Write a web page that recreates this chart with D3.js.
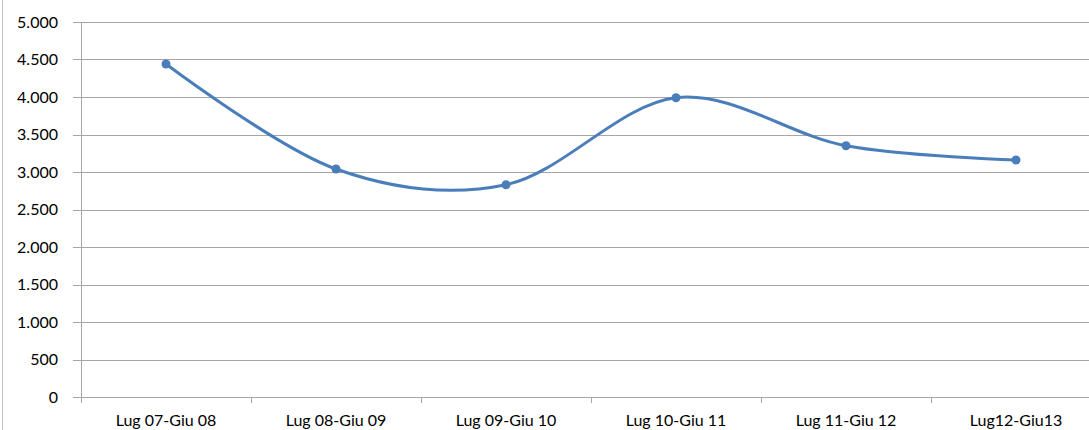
<!DOCTYPE html>
<html>
<head>
<meta charset="utf-8">
<script src="https://cdn.jsdelivr.net/npm/d3@7"></script>
<style>
  body { margin: 0; background: #fff; }
  text { font-family: Lato, "Open Sans", sans-serif; font-size: 16px; fill: #000; }
</style>
</head>
<body>
<script>
// categories and values
var categories = ["Lug 07-Giu 08", "Lug 08-Giu 09", "Lug 09-Giu 10", "Lug 10-Giu 11", "Lug 11-Giu 12", "Lug12-Giu13"];
var values = [4440, 3040, 2830, 3990, 3350, 3160];
var yTicks = [0, 500, 1000, 1500, 2000, 2500, 3000, 3500, 4000, 4500, 5000];

var settings = {
    width: 1089,
    height: 430,
    left: 81,
    top: 22,
    bottom: 397,
    band: 170,
    color: "#4A7EBB"
}

var svg = d3.select("body").append("svg")
    .attr("width", settings.width)
    .attr("height", settings.height);

// outer border on the left
svg.append("line")
    .attr("x1", 2.5).attr("x2", 2.5)
    .attr("y1", 0).attr("y2", settings.height)
    .attr("stroke", "#bfbfbf");

var x = d3.scaleBand()
    .domain(categories)
    .range([settings.left, settings.left + settings.band * categories.length]);

var y = d3.scaleLinear()
    .domain([0, 5000])
    .range([settings.bottom, settings.top]);

var fmt = function(d) { return d3.format(",")(d).replace(/,/g, "."); };

// gridlines
svg.append("g").selectAll("line")
    .data(yTicks)
    .enter().append("line")
    .attr("x1", settings.left - 8)
    .attr("x2", settings.width)
    .attr("y1", (d) => { return Math.round(y(d)) + 0.5; })
    .attr("y2", (d) => { return Math.round(y(d)) + 0.5; })
    .attr("stroke", "#a6a6a6");

// y labels
svg.append("g").selectAll("text")
    .data(yTicks)
    .enter().append("text")
    .attr("x", 58)
    .attr("y", (d) => { return y(d) + 5.5; })
    .attr("text-anchor", "end")
    .text(fmt);

// vertical axis
svg.append("line")
    .attr("x1", settings.left + 0.5).attr("x2", settings.left + 0.5)
    .attr("y1", settings.top).attr("y2", settings.bottom + 6)
    .attr("stroke", "#a6a6a6");

// category ticks
svg.append("g").selectAll("line")
    .data(categories.slice(1))
    .enter().append("line")
    .attr("x1", (d) => { return Math.round(x(d)) + 0.5; })
    .attr("x2", (d) => { return Math.round(x(d)) + 0.5; })
    .attr("y1", settings.bottom)
    .attr("y2", settings.bottom + 6)
    .attr("stroke", "#a6a6a6");

// category labels
svg.append("g").selectAll("text")
    .data(categories)
    .enter().append("text")
    .attr("x", (d) => { return x(d) + x.bandwidth() / 2; })
    .attr("y", 426)
    .attr("text-anchor", "middle")
    .text((d) => { return d; });

var pts = categories.map((c, i) => { return [x(c) + x.bandwidth() / 2, y(values[i])]; });

var line = d3.line().curve(d3.curveCardinal.tension(0));

svg.append("path")
    .attr("d", line(pts))
    .attr("fill", "none")
    .attr("stroke", settings.color)
    .attr("stroke-width", 3);

svg.append("g").selectAll("circle")
    .data(pts)
    .enter().append("circle")
    .attr("cx", (d) => { return d[0]; })
    .attr("cy", (d) => { return d[1]; })
    .attr("r", 4.5)
    .attr("fill", settings.color);
</script>
</body>
</html>
